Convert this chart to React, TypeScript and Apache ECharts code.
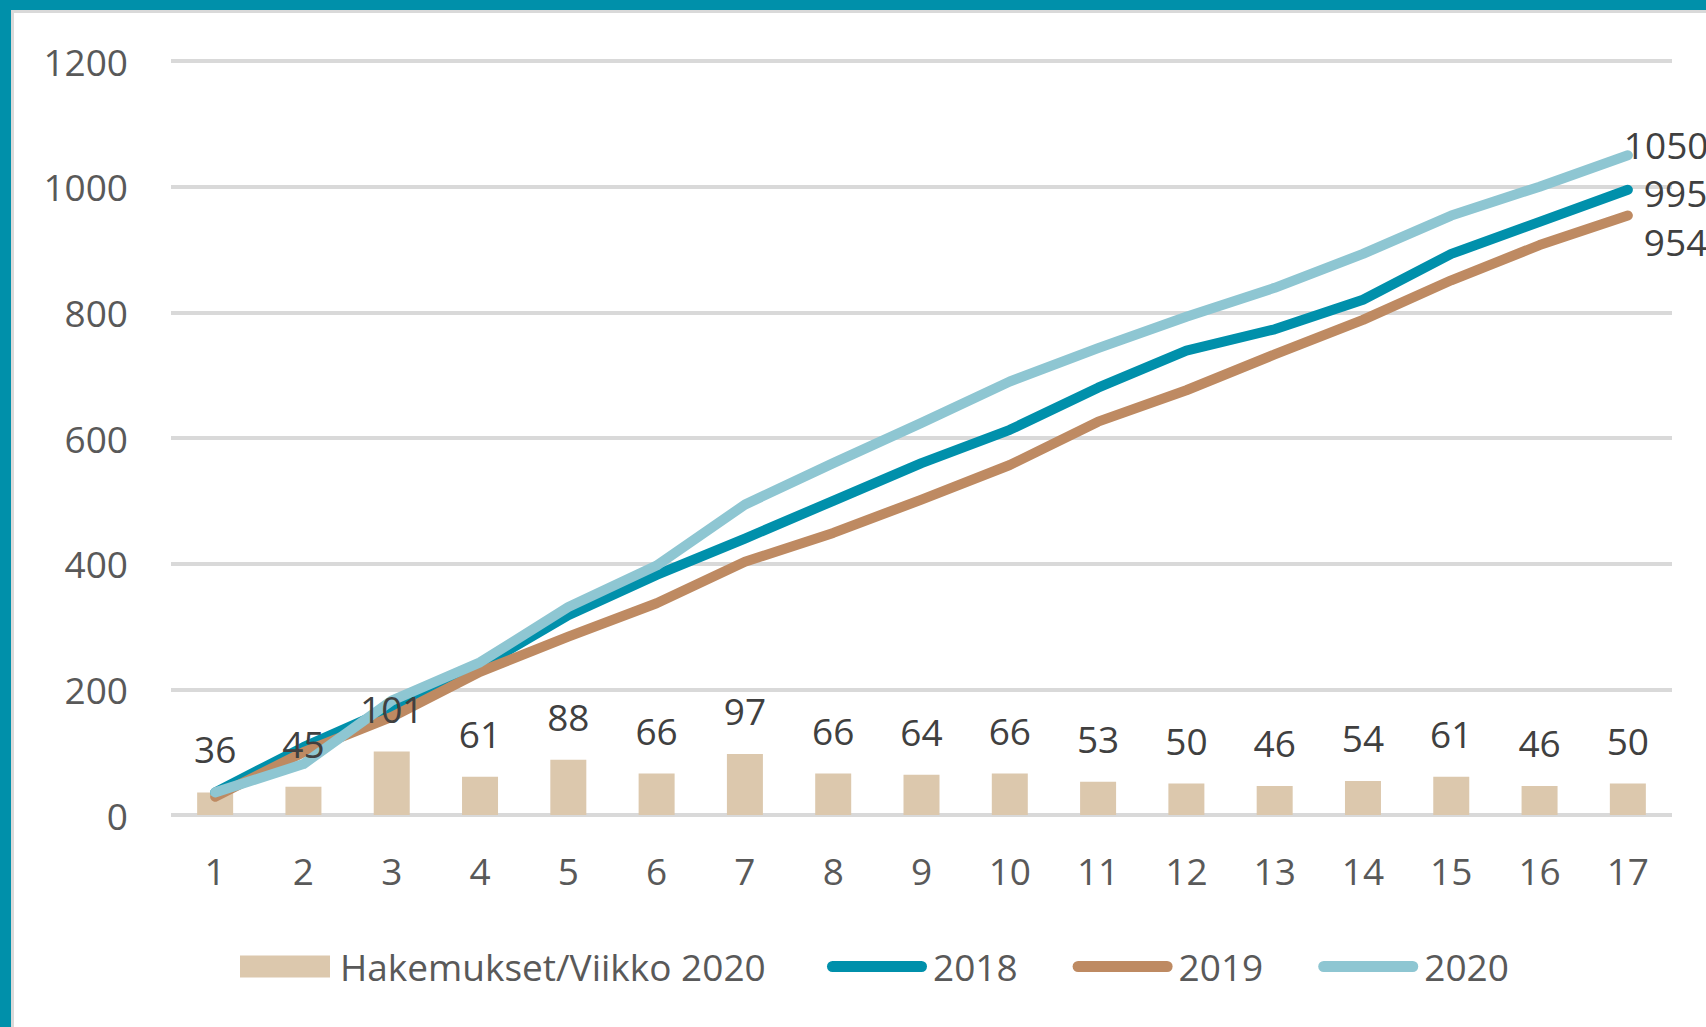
import React, { useEffect, useRef } from "react";
import * as echarts from "echarts";

const weeks = ["1", "2", "3", "4", "5", "6", "7", "8", "9", "10", "11", "12", "13", "14", "15", "16", "17"];
const weekly2020 = [36, 45, 101, 61, 88, 66, 97, 66, 64, 66, 53, 50, 46, 54, 61, 46, 50];
const cum2018 = [36, 108, 170, 236, 318, 382, 440, 500, 560, 613, 680, 739, 773, 820, 893, 944, 995];
const cum2019 = [29, 100, 156, 228, 284, 337, 403, 449, 502, 557, 626, 676, 733, 788, 851, 907, 954];
const cum2020 = [36, 81, 182, 243, 331, 397, 494, 560, 624, 690, 743, 793, 839, 893, 954, 1000, 1050];
const yTicks = { min: 0, max: 1200, interval: 200 };

const FONT = "'Open Sans', 'Noto Sans', sans-serif";
const FS = 37;
const PILL = "path://M5.5,0 L94.5,0 A5.5,5.5 0 0 1 94.5,11 L5.5,11 A5.5,5.5 0 0 1 5.5,0 Z";

export default function App() {
  const ref = useRef<HTMLDivElement>(null);
  useEffect(() => {
    if (!ref.current) return;
    const chart = echarts.init(ref.current, undefined, { renderer: "svg" });
    const lineSeries = (name: string, data: number[], color: string, offset: number[]) => ({
      name,
      type: "line",
      data,
      z: 3,
      symbol: "none",
      showSymbol: false,
      lineStyle: { color, width: 10, cap: "round", join: "round" },
      itemStyle: { color },
      endLabel: {
        show: true,
        fontSize: FS,
        fontFamily: FONT,
        color: "#404040",
        offset,
        formatter: (p: any) => String(p.value),
      },
    });
    chart.setOption({
      animation: false,
      backgroundColor: "#ffffff",
      textStyle: { fontFamily: FONT },
      grid: { left: 171, right: 34, top: 61, bottom: 212, containLabel: false },
      graphic: [
        { type: "rect", shape: { x: 0, y: 0, width: 1706, height: 10 }, style: { fill: "#0090AA" } },
        { type: "rect", shape: { x: 0, y: 0, width: 11, height: 1027 }, style: { fill: "#0090AA" } },
        { type: "rect", shape: { x: 11, y: 10, width: 1695, height: 3 }, style: { fill: "#d9d9d9" } },
        { type: "rect", shape: { x: 11, y: 10, width: 3, height: 1017 }, style: { fill: "#d9d9d9" } },
      ],
      legend: [
        {
          left: 235,
          top: 943,
          itemWidth: 90,
          itemHeight: 22,
          textStyle: { fontSize: FS, fontFamily: FONT, color: "#595959", padding: [0, 0, 0, 5] },
          data: [{ name: "Hakemukset/Viikko 2020", icon: "rect" }],
        },
        {
          left: 822,
          top: 943,
          itemWidth: 100,
          itemHeight: 11,
          itemGap: 55,
          textStyle: { fontSize: FS, fontFamily: FONT, color: "#595959", padding: [0, 0, 0, 1] },
          data: [
            { name: "2018", icon: PILL },
            { name: "2019", icon: PILL },
            { name: "2020", icon: PILL },
          ],
        },
      ],
      xAxis: {
        type: "category",
        data: weeks,
        boundaryGap: true,
        axisLine: { show: false },
        axisTick: { show: false },
        axisLabel: { fontSize: FS, fontFamily: FONT, color: "#595959", margin: 37 },
      },
      yAxis: {
        type: "value",
        min: yTicks.min,
        max: yTicks.max,
        interval: yTicks.interval,
        axisLine: { show: false },
        axisTick: { show: false },
        axisLabel: {
          fontSize: FS,
          fontFamily: FONT,
          color: "#595959",
          margin: 43,
          formatter: (v: number) => String(v),
        },
        splitLine: { lineStyle: { color: "#d9d9d9", width: 4 } },
      },
      series: [
        {
          name: "Hakemukset/Viikko 2020",
          type: "bar",
          data: weekly2020,
          barWidth: 36,
          z: 1,
          itemStyle: { color: "#DCC8AD" },
        },
        {
          name: "weeklyLabels",
          type: "bar",
          data: weekly2020,
          barWidth: 36,
          barGap: "-100%",
          z: 5,
          silent: true,
          itemStyle: { color: "rgba(0,0,0,0)" },
          label: {
            show: true,
            position: "top",
            distance: 25,
            fontSize: FS,
            fontFamily: FONT,
            color: "#404040",
          },
        },
        lineSeries("2018", cum2018, "#0090AB", [8, 3]),
        lineSeries("2019", cum2019, "#BE8A62", [8, 26]),
        lineSeries("2020", cum2020, "#8EC6D2", [-12, -11]),
      ],
    });
    return () => chart.dispose();
  }, []);
  return (
    <div
      ref={ref}
      style={{ position: "fixed", left: 0, top: 0, width: 1706, height: 1027, background: "#fff" }}
    />
  );
}
